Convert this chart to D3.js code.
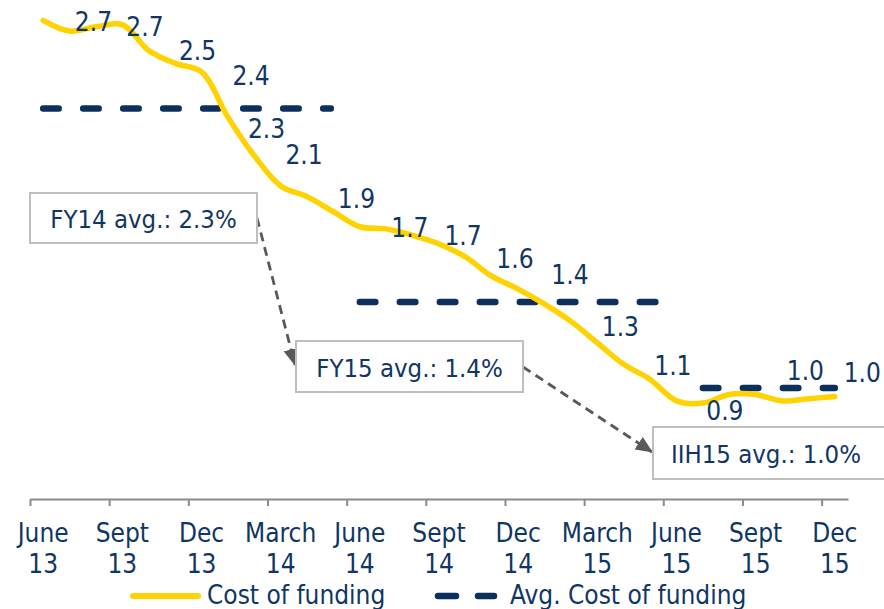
<!DOCTYPE html>
<html>
<head>
<meta charset="utf-8">
<script src="https://cdn.jsdelivr.net/npm/d3@7"></script>
<style>
  body { margin: 0; background: #fff; }
  text { font-family: "DejaVu Sans Condensed", "DejaVu Sans", sans-serif; font-stretch: condensed; fill: #0f3665; }
</style>
</head>
<body>
<div id="chart"></div>
<script>
var w = 884;
var h = 609;

// monthly cost of funding, June 13 .. Dec 15 (31 months)
var costOfFunding = [2.71, 2.66, 2.68, 2.69, 2.57, 2.51, 2.47, 2.26, 2.08, 1.94,
                     1.89, 1.82, 1.75, 1.74, 1.71, 1.67, 1.61, 1.52, 1.46, 1.39,
                     1.31, 1.21, 1.11, 1.04, 0.94, 0.93, 0.97, 0.97, 0.94, 0.95, 0.96];

// quarterly tick labels
var tickMonths = ["June", "Sept", "Dec", "March", "June", "Sept", "Dec", "March", "June", "Sept", "Dec"];
var tickYears  = ["13", "13", "13", "14", "14", "14", "14", "15", "15", "15", "15"];

// data labels (month index + shown value)
var labelMonths = [2, 4, 6, 8, 9, 10, 12, 14, 16, 18, 20, 22, 24, 26, 29, 30];
var labelValues = [2.7, 2.7, 2.5, 2.4, 2.3, 2.1, 1.9, 1.7, 1.7, 1.6, 1.4, 1.3, 1.1, 0.9, 1.0, 1.0];

// average cost of funding per period
var avgValues     = [2.3, 1.4, 1.0];
var avgStartMonth = [0, 12, 25];
var avgEndMonth   = [10.9, 23.35, 30];
var avgNotes      = ["FY14 avg.: 2.3%", "FY15 avg.: 1.4%", "IIH15 avg.: 1.0%"];

var legendNames = ["Cost of funding", "Avg. Cost of funding"];

// layout only: nudges for the hand placed data labels
var labelDx = [-2.5, -3.8, -4, -3.3, -14.2, -3, -3.4, -2.7, -2.4, -3.2, -1, -3.3, -3.6, -4.4, -3, 27.5];
var labelDy = [-1, 3.5, -15.5, -12, 19.5, 2.5, 3.5, -10.5, -2.5, -1, -28, 2.5, -1.5, 0.5, -18, -16];

// layout only: note boxes and the arrows between them
var noteBoxes = [
  {x: 30,  y: 193, w: 227, h: 50, base: 228},
  {x: 296, y: 341, w: 227, h: 51, base: 377},
  {x: 653, y: 427, w: 240, h: 52, base: 463, tx: 766}
];
var arrows = [
  {x1: 257, y1: 218, x2: 295, y2: 365},
  {x1: 523, y1: 367, x2: 652, y2: 452}
];

var yellow = "#ffd200";
var navy = "#0c2f5e";
var axisY = 499;

var svg = d3.select("#chart")
  .append("svg")
  .attr("width", w)
  .attr("height", h);

// month edges -> pixels
var x = d3.scaleLinear().domain([0, costOfFunding.length]).range([30, 848]);
var y = d3.scaleLinear().domain([0.5, 2.8]).range([495.5, 1]);
function mid(m) { return x(m + 0.5); }

// x axis with ticks on quarter boundaries
var axis = d3.axisBottom(x)
  .tickValues(d3.range(0, costOfFunding.length, 3))
  .tickFormat("")
  .tickSizeInner(7)
  .tickSizeOuter(0);

var gx = svg.append("g")
  .attr("transform", "translate(0," + axisY + ")")
  .call(axis);
gx.select(".domain").attr("stroke", "#8c8c8c").attr("stroke-width", 2);
gx.selectAll(".tick line").attr("stroke", "#8c8c8c").attr("stroke-width", 2);

var tickLabels = svg.append("g")
  .selectAll("text")
  .data(tickMonths)
  .enter().append("text")
  .attr("text-anchor", "middle")
  .attr("font-size", 26)
  .attr("transform", function(d, i) { return "translate(" + mid(i * 3) + ",0)"; });
tickLabels.append("tspan").attr("x", 0).attr("y", 542).text(function(d) { return d; });
tickLabels.append("tspan").attr("x", 0).attr("y", 573).text(function(d, i) { return tickYears[i]; });

// average dashed segments
svg.append("g")
  .selectAll("line")
  .data(avgValues)
  .enter().append("line")
  .attr("x1", function(d, i) { return mid(avgStartMonth[i]); })
  .attr("x2", function(d, i) { return mid(avgEndMonth[i]); })
  .attr("y1", function(d) { return y(d); })
  .attr("y2", function(d) { return y(d); })
  .attr("stroke", navy)
  .attr("stroke-width", 6.5)
  .attr("stroke-linecap", "round")
  .attr("stroke-dasharray", "15.5,24.5");

// cost of funding line
var line = d3.line()
  .x(function(d, i) { return mid(i); })
  .y(function(d) { return y(d); })
  .curve(d3.curveCatmullRom.alpha(0.5));

svg.append("path")
  .datum(costOfFunding)
  .attr("d", line)
  .attr("fill", "none")
  .attr("stroke", yellow)
  .attr("stroke-width", 5.5)
  .attr("stroke-linecap", "round");

// data labels
svg.append("g")
  .selectAll("text")
  .data(labelValues)
  .enter().append("text")
  .attr("text-anchor", "middle")
  .attr("font-size", 26)
  .attr("x", function(d, i) { return mid(labelMonths[i]) + labelDx[i]; })
  .attr("y", function(d, i) { return y(d) + labelDy[i] + 9.5; })
  .text(function(d) { return d.toFixed(1); });

// arrows
svg.append("defs").append("marker")
  .attr("id", "head")
  .attr("markerUnits", "userSpaceOnUse")
  .attr("viewBox", "0 0 17 15")
  .attr("refX", 16)
  .attr("refY", 7.5)
  .attr("markerWidth", 17)
  .attr("markerHeight", 15)
  .attr("orient", "auto")
  .append("path")
  .attr("d", "M0,0 L17,7.5 L0,15 z")
  .attr("fill", "#595959");

svg.append("g")
  .selectAll("line")
  .data(arrows)
  .enter().append("line")
  .attr("x1", function(d) { return d.x1; })
  .attr("y1", function(d) { return d.y1; })
  .attr("x2", function(d) { return d.x2; })
  .attr("y2", function(d) { return d.y2; })
  .attr("stroke", "#595959")
  .attr("stroke-width", 2.8)
  .attr("stroke-dasharray", "9,6")
  .attr("marker-end", "url(#head)");

// note boxes
var notes = svg.append("g")
  .selectAll("g")
  .data(avgNotes)
  .enter().append("g");

notes.append("rect")
  .attr("x", function(d, i) { return noteBoxes[i].x; })
  .attr("y", function(d, i) { return noteBoxes[i].y; })
  .attr("width", function(d, i) { return noteBoxes[i].w; })
  .attr("height", function(d, i) { return noteBoxes[i].h; })
  .attr("fill", "#fff")
  .attr("stroke", "#bfbfbf")
  .attr("stroke-width", 2);

notes.append("text")
  .attr("text-anchor", "middle")
  .attr("font-size", 25.5)
  .attr("x", function(d, i) { var b = noteBoxes[i]; return b.tx || b.x + b.w / 2; })
  .attr("y", function(d, i) { return noteBoxes[i].base; })
  .text(function(d) { return d; });

// legend
var legend = svg.append("g");
legend.append("line")
  .attr("x1", 133).attr("x2", 198).attr("y1", 596).attr("y2", 596)
  .attr("stroke", yellow).attr("stroke-width", 6).attr("stroke-linecap", "round");
legend.append("text")
  .attr("x", 207).attr("y", 604).attr("font-size", 26)
  .text(legendNames[0]);
legend.append("line")
  .attr("x1", 438).attr("x2", 494).attr("y1", 596).attr("y2", 596)
  .attr("stroke", navy).attr("stroke-width", 6.5).attr("stroke-linecap", "round")
  .attr("stroke-dasharray", "18,22");
legend.append("text")
  .attr("x", 510).attr("y", 604).attr("font-size", 26)
  .text(legendNames[1]);
</script>
</body>
</html>
